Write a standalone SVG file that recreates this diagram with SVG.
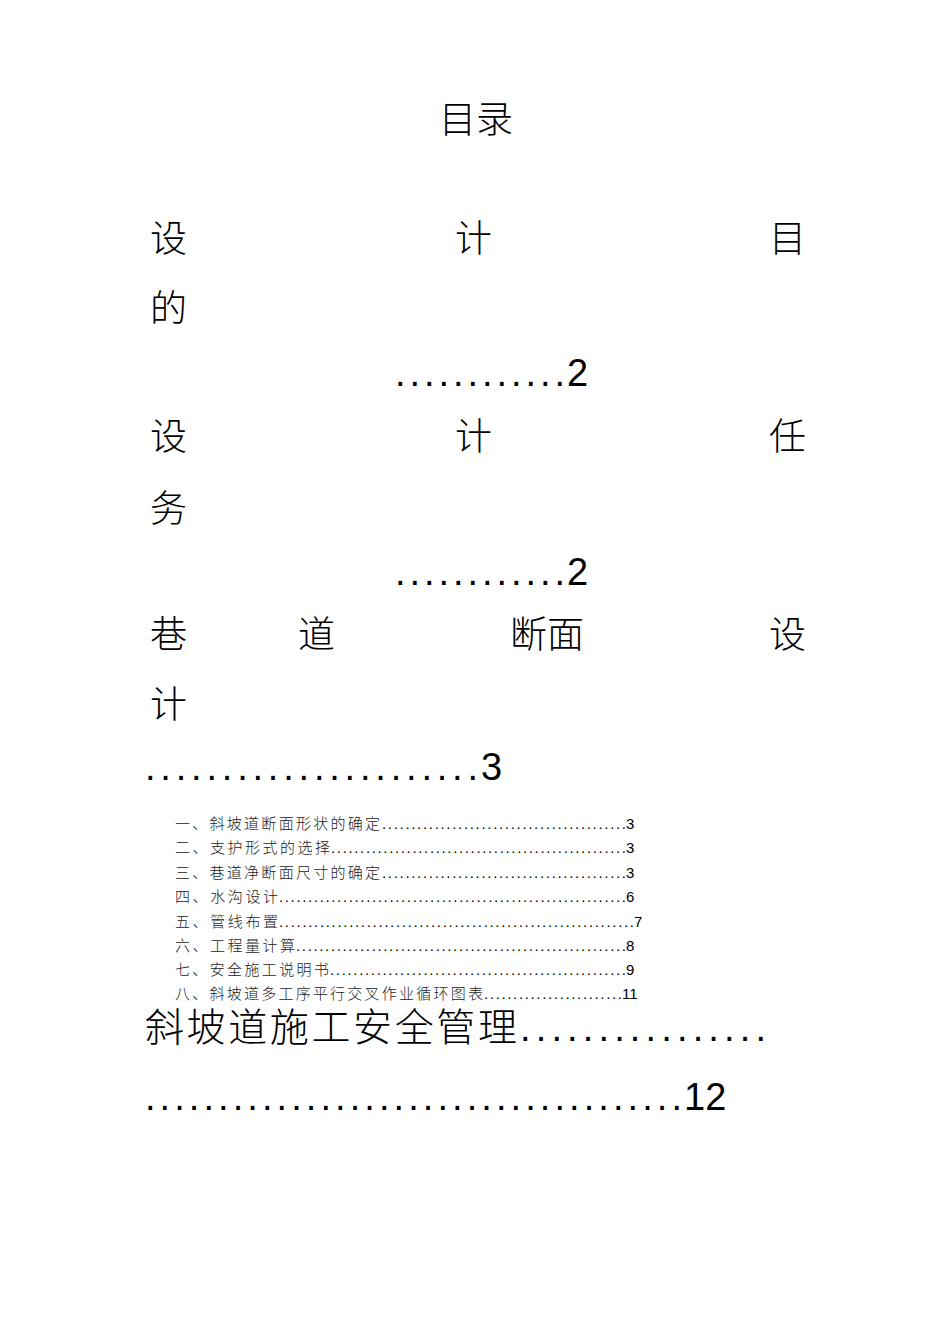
<svg xmlns="http://www.w3.org/2000/svg" width="950" height="1344" viewBox="0 0 950 1344">
<style>
.c{font-family:"Noto Sans CJK SC","Noto Sans",sans-serif;fill:#000;font-weight:300}
.b{font-size:37px}
.n{font-family:"Liberation Sans",Arial,sans-serif;font-size:38px;fill:#000}
.s{font-family:"Noto Sans CJK SC",sans-serif;font-size:15px;fill:#222;font-weight:300}
.sn{font-family:"Liberation Sans",Arial,sans-serif;font-size:15px;fill:#000}
</style>
<rect width="950" height="1344" fill="#fff"/>
<text class="c b" x="476" y="133" text-anchor="middle">目录</text>
<g class="c b">
<text x="150" y="252">设</text><text x="455" y="252">计</text><text x="769" y="252">目</text>
<text x="150" y="322">的</text>
<text x="150" y="450">设</text><text x="455" y="450">计</text><text x="769" y="450">任</text>
<text x="150" y="522">务</text>
<text x="150" y="648">巷</text><text x="298" y="648">道</text><text x="510" y="648">断面</text><text x="769" y="648">设</text>
<text x="150" y="718">计</text>
</g>
<text class="n" x="395" y="386" textLength="170" lengthAdjust="spacing">............</text><text class="n" x="567" y="386">2</text>
<text class="n" x="395" y="585" textLength="170" lengthAdjust="spacing">............</text><text class="n" x="567" y="585">2</text>
<text class="n" x="145" y="780" textLength="333" lengthAdjust="spacing">......................</text><text class="n" x="481" y="780">3</text>
<g>
<text class="s" x="175" y="829" textLength="205">一、斜坡道断面形状的确定</text><text class="sn" x="382" y="829" textLength="244">..........................................</text><text class="sn" x="626" y="829">3</text>
<text class="s" x="175" y="853" textLength="155">二、支护形式的选择</text><text class="sn" x="331" y="853" textLength="295">...................................................</text><text class="sn" x="626" y="853">3</text>
<text class="s" x="175" y="878" textLength="205">三、巷道净断面尺寸的确定</text><text class="sn" x="382" y="878" textLength="244">..........................................</text><text class="sn" x="626" y="878">3</text>
<text class="s" x="175" y="902" textLength="103">四、水沟设计</text><text class="sn" x="279" y="902" textLength="347">............................................................</text><text class="sn" x="626" y="902">6</text>
<text class="s" x="175" y="927" textLength="103">五、管线布置</text><text class="sn" x="279" y="927" textLength="355">.............................................................</text><text class="sn" x="634" y="927">7</text>
<text class="s" x="175" y="951" textLength="120">六、工程量计算</text><text class="sn" x="296" y="951" textLength="330">.........................................................</text><text class="sn" x="626" y="951">8</text>
<text class="s" x="175" y="975" textLength="154">七、安全施工说明书</text><text class="sn" x="330" y="975" textLength="296">...................................................</text><text class="sn" x="626" y="975">9</text>
<text class="s" x="175" y="999" textLength="308">八、斜坡道多工序平行交叉作业循环图表</text><text class="sn" x="484" y="999" textLength="138">........................</text><text class="sn" x="622" y="999">11</text>
</g>
<text class="c" x="145" y="1041" font-size="39" textLength="372">斜坡道施工安全管理</text>
<text class="n" x="520" y="1041" textLength="246" lengthAdjust="spacing">................</text>
<text class="n" x="145" y="1110" textLength="537" lengthAdjust="spacing">.....................................</text><text class="n" x="684" y="1110">12</text>
</svg>
